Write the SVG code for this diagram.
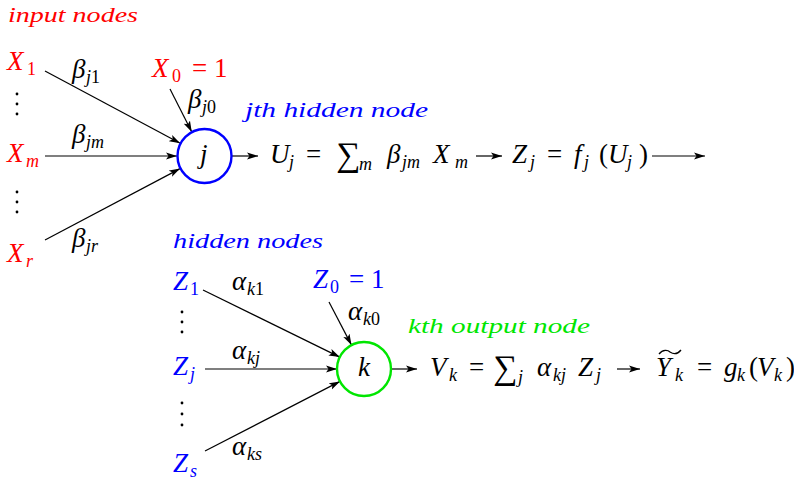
<svg xmlns="http://www.w3.org/2000/svg" width="794" height="482" viewBox="0 0 794 482" font-family="'Liberation Serif', serif">
<defs>
<marker id="arr" markerUnits="userSpaceOnUse" markerWidth="12" markerHeight="8" refX="11" refY="4" orient="auto">
<path d="M0,0.5 L11,4 L0,7.5 L2.5,4 z" fill="#000"/>
</marker>
</defs>
<rect width="794" height="482" fill="#fff"/>

<g id="connectors" stroke="#000" stroke-width="1.2" fill="none" marker-end="url(#arr)">
<line x1="45" y1="71" x2="180.2" y2="143.3"/>
<line x1="170" y1="89" x2="191.8" y2="131.9"/>
<line x1="45" y1="156" x2="177" y2="156"/>
<line x1="45" y1="240" x2="180.1" y2="168.6"/>
<line x1="232" y1="156" x2="258" y2="156"/>
<line x1="476" y1="156" x2="502" y2="156"/>
<line x1="652" y1="156" x2="705" y2="156"/>
<line x1="203" y1="290" x2="339.8" y2="357.1"/>
<line x1="329" y1="302" x2="351.5" y2="345.1"/>
<line x1="205" y1="369" x2="337" y2="369"/>
<line x1="205" y1="451" x2="340" y2="381.4"/>
<line x1="391" y1="369" x2="417" y2="369"/>
<line x1="617" y1="369" x2="640" y2="369"/>
</g>

<g id="input-nodes-label"><text style="font-family:'Liberation Serif',serif;font-style:italic" font-size="21" fill="#ff0000" x="8" y="22" textLength="130" lengthAdjust="spacingAndGlyphs">input nodes</text></g>
<g id="X1"><text style="font-family:'Liberation Serif',serif;font-style:italic" font-size="27" fill="#ff0000"><tspan x="7" y="70">X</tspan><tspan font-size="18" style="font-style:normal" x="27" y="75">1</tspan></text></g>
<g id="vdots-top" fill="#000"><circle cx="17" cy="94" r="1.4"/><circle cx="17" cy="104" r="1.4"/><circle cx="17" cy="114" r="1.4"/></g>
<g id="Xm"><text style="font-family:'Liberation Serif',serif;font-style:italic" font-size="27" fill="#ff0000"><tspan x="7" y="162">X</tspan><tspan font-size="18" x="26" y="167">m</tspan></text></g>
<g id="vdots-mid" fill="#000"><circle cx="17" cy="192" r="1.4"/><circle cx="17" cy="202" r="1.4"/><circle cx="17" cy="212" r="1.4"/></g>
<g id="Xr"><text style="font-family:'Liberation Serif',serif;font-style:italic" font-size="27" fill="#ff0000"><tspan x="7" y="262">X</tspan><tspan font-size="18" x="26" y="267">r</tspan></text></g>
<g id="X0"><text style="font-family:'Liberation Serif',serif;font-style:italic" font-size="27" fill="#ff0000"><tspan x="152" y="77">X</tspan><tspan font-size="18" style="font-style:normal" x="172" y="82">0</tspan><tspan style="font-style:normal" x="192" y="77">= 1</tspan></text></g>

<g id="beta-labels">
<text style="font-family:'Liberation Serif',serif;font-style:italic" font-size="27"><tspan x="72" y="78">β</tspan><tspan font-size="18" x="86" y="83">j<tspan style="font-style:normal">1</tspan></tspan></text>
<text style="font-family:'Liberation Serif',serif;font-style:italic" font-size="27"><tspan x="188" y="108">β</tspan><tspan font-size="18" x="202" y="113">j<tspan style="font-style:normal">0</tspan></tspan></text>
<text style="font-family:'Liberation Serif',serif;font-style:italic" font-size="27"><tspan x="72" y="143">β</tspan><tspan font-size="18" x="86" y="148">jm</tspan></text>
<text style="font-family:'Liberation Serif',serif;font-style:italic" font-size="27"><tspan x="72" y="247">β</tspan><tspan font-size="18" x="86" y="252">jr</tspan></text>
</g>

<g id="hidden-node-j">
<circle cx="204.5" cy="156" r="27" fill="none" stroke="#0000ff" stroke-width="2.4"/>
<text style="font-family:'Liberation Serif',serif;font-style:italic" font-size="27" x="200" y="163">j</text>
</g>
<g id="jth-label"><text style="font-family:'Liberation Serif',serif;font-style:italic" font-size="21" fill="#0000ff" x="245" y="117" textLength="183" lengthAdjust="spacingAndGlyphs">jth hidden node</text></g>

<g id="U-formula"><text style="font-family:'Liberation Serif',serif;font-style:italic" font-size="27"><tspan x="270" y="163">U</tspan><tspan font-size="18" x="289" y="168">j</tspan><tspan style="font-style:normal" x="306" y="163">=</tspan><tspan font-size="34" style="font-style:normal" x="336" y="166">∑</tspan><tspan font-size="18" x="359" y="170">m</tspan><tspan x="387" y="163">β</tspan><tspan font-size="18" x="402" y="168">jm</tspan><tspan x="433" y="163">X</tspan><tspan font-size="18" x="455" y="168">m</tspan></text></g>
<g id="Z-formula"><text style="font-family:'Liberation Serif',serif;font-style:italic" font-size="27"><tspan x="512" y="163">Z</tspan><tspan font-size="18" x="530" y="168">j</tspan><tspan style="font-style:normal" x="547" y="163">=</tspan><tspan x="574" y="163">f</tspan><tspan font-size="18" x="584" y="168">j</tspan><tspan style="font-style:normal" x="599" y="163">(</tspan><tspan x="608" y="163">U</tspan><tspan font-size="18" x="627" y="168">j</tspan><tspan style="font-style:normal" x="639" y="163">)</tspan></text></g>

<g id="hidden-nodes-label"><text style="font-family:'Liberation Serif',serif;font-style:italic" font-size="21" fill="#0000ff" x="173" y="248" textLength="150" lengthAdjust="spacingAndGlyphs">hidden nodes</text></g>
<g id="Z1"><text style="font-family:'Liberation Serif',serif;font-style:italic" font-size="27" fill="#0000ff"><tspan x="173" y="290">Z</tspan><tspan font-size="18" style="font-style:normal" x="190" y="295">1</tspan></text></g>
<g id="vdots-b1" fill="#000"><circle cx="182" cy="312" r="1.4"/><circle cx="182" cy="322" r="1.4"/><circle cx="182" cy="332" r="1.4"/></g>
<g id="Zj"><text style="font-family:'Liberation Serif',serif;font-style:italic" font-size="27" fill="#0000ff"><tspan x="173" y="375">Z</tspan><tspan font-size="18" x="190" y="380">j</tspan></text></g>
<g id="vdots-b2" fill="#000"><circle cx="182" cy="403" r="1.4"/><circle cx="182" cy="414" r="1.4"/><circle cx="182" cy="425" r="1.4"/></g>
<g id="Zs"><text style="font-family:'Liberation Serif',serif;font-style:italic" font-size="27" fill="#0000ff"><tspan x="173" y="472">Z</tspan><tspan font-size="18" x="190" y="477">s</tspan></text></g>
<g id="Z0"><text style="font-family:'Liberation Serif',serif;font-style:italic" font-size="27" fill="#0000ff"><tspan x="313" y="288">Z</tspan><tspan font-size="18" style="font-style:normal" x="330" y="293">0</tspan><tspan style="font-style:normal" x="349" y="288">= 1</tspan></text></g>

<g id="alpha-labels">
<text style="font-family:'Liberation Serif',serif;font-style:italic" font-size="27"><tspan x="232" y="290">α</tspan><tspan font-size="18" x="247" y="295">k<tspan style="font-style:normal">1</tspan></tspan></text>
<text style="font-family:'Liberation Serif',serif;font-style:italic" font-size="27"><tspan x="348" y="320">α</tspan><tspan font-size="18" x="363" y="325">k<tspan style="font-style:normal">0</tspan></tspan></text>
<text style="font-family:'Liberation Serif',serif;font-style:italic" font-size="27"><tspan x="232" y="359">α</tspan><tspan font-size="18" x="247" y="364">kj</tspan></text>
<text style="font-family:'Liberation Serif',serif;font-style:italic" font-size="27"><tspan x="232" y="455">α</tspan><tspan font-size="18" x="247" y="460">ks</tspan></text>
</g>

<g id="output-node-k">
<circle cx="364" cy="369" r="27" fill="none" stroke="#00e600" stroke-width="2.4"/>
<text style="font-family:'Liberation Serif',serif;font-style:italic" font-size="27" x="358" y="376">k</text>
</g>
<g id="kth-label"><text style="font-family:'Liberation Serif',serif;font-style:italic" font-size="21" fill="#00e600" x="408" y="333" textLength="182" lengthAdjust="spacingAndGlyphs">kth output node</text></g>

<g id="V-formula"><text style="font-family:'Liberation Serif',serif;font-style:italic" font-size="27"><tspan x="430" y="376">V</tspan><tspan font-size="18" x="449" y="381">k</tspan><tspan style="font-style:normal" x="469" y="376">=</tspan><tspan font-size="34" style="font-style:normal" x="493" y="379">∑</tspan><tspan font-size="18" x="518" y="383">j</tspan><tspan x="537" y="376">α</tspan><tspan font-size="18" x="553" y="381">kj</tspan><tspan x="578" y="376">Z</tspan><tspan font-size="18" x="596" y="381">j</tspan></text></g>
<g id="Y-formula"><path d="M659,354 C663,349 668,350 670,352 C673,354 677,355 681,350" fill="none" stroke="#000" stroke-width="1.3"/><text style="font-family:'Liberation Serif',serif;font-style:italic" font-size="27"><tspan x="656" y="376">Y</tspan><tspan font-size="18" x="675" y="381">k</tspan><tspan style="font-style:normal" x="697" y="376">=</tspan><tspan x="724" y="376">g</tspan><tspan font-size="18" x="737" y="381">k</tspan><tspan style="font-style:normal" x="749" y="376">(</tspan><tspan x="757" y="376">V</tspan><tspan font-size="18" x="774" y="381">k</tspan><tspan style="font-style:normal" x="786" y="376">)</tspan></text></g>
</svg>
